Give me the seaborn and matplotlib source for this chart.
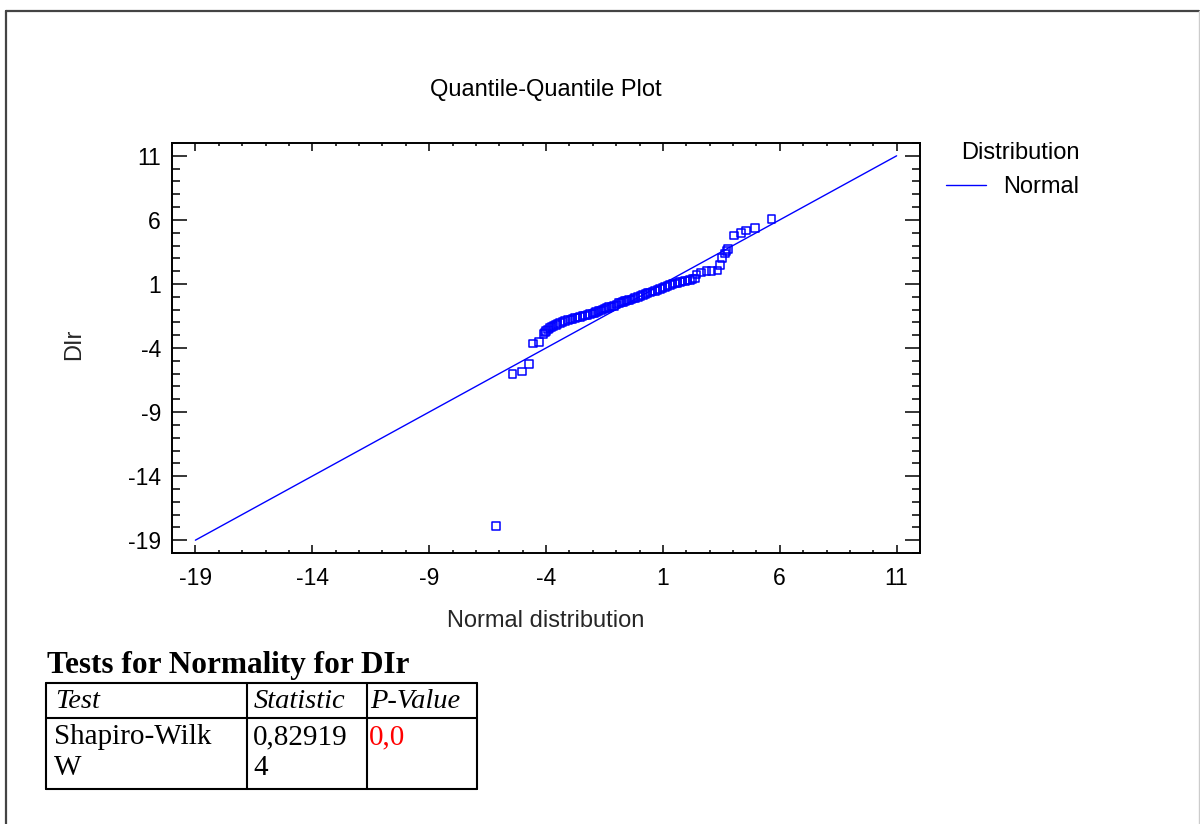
import matplotlib
matplotlib.use("Agg")
import matplotlib.pyplot as plt
import seaborn as sns
import pandas as pd
from matplotlib.lines import Line2D
from matplotlib.ticker import MultipleLocator, FixedLocator

# ---- data ----
theoretical = [-6.14, -5.44, -5.03, -4.74, -4.56, -4.31, -4.11, -4.05, -3.99, -3.92,
               -3.85, -3.76, -3.68, -3.58, -3.50, -3.40, -3.29, -3.18, -3.07, -2.96,
               -2.86, -2.75, -2.65, -2.54, -2.44, -2.33, -2.23, -2.12, -2.01, -1.93,
               -1.85, -1.75, -1.66, -1.57, -1.48, -1.40, -1.31, -1.20, -1.10, -0.99,
               -0.88, -0.80, -0.71, -0.62, -0.53, -0.44, -0.35, -0.26, -0.18, -0.07,
               0.04, 0.14, 0.25, 0.35, 0.46, 0.56, 0.67, 0.77, 0.88, 0.99,
               1.10, 1.20, 1.31, 1.42, 1.52, 1.62, 1.73, 1.84, 1.95, 2.05,
               2.16, 2.26, 2.37, 2.44, 2.62, 2.86, 3.08, 3.33, 3.44, 3.54,
               3.67, 3.72, 3.78, 4.04, 4.35, 4.56, 4.94, 5.65]
observed = [-17.9, -6.02, -5.82, -5.26, -3.66, -3.53, -2.92, -2.80, -2.66, -2.55,
            -2.46, -2.36, -2.28, -2.20, -2.13, -2.05, -1.98, -1.90, -1.82, -1.77,
            -1.72, -1.66, -1.62, -1.57, -1.52, -1.47, -1.42, -1.36, -1.31, -1.26,
            -1.21, -1.13, -1.06, -0.99, -0.93, -0.87, -0.81, -0.76, -0.70, -0.60,
            -0.50, -0.45, -0.40, -0.35, -0.30, -0.25, -0.20, -0.14, -0.09, -0.01,
            0.06, 0.14, 0.21, 0.28, 0.34, 0.41, 0.47, 0.53, 0.59, 0.68,
            0.77, 0.85, 0.92, 0.98, 1.03, 1.08, 1.13, 1.18, 1.23, 1.28,
            1.33, 1.38, 1.43, 1.74, 1.89, 1.99, 1.99, 2.04, 2.50, 3.01,
            3.39, 3.55, 3.72, 4.79, 4.99, 5.17, 5.35, 6.06]
ref_line_x = [-19, 11]
ref_line_y = [-19, 11]
tick_values = [-19, -14, -9, -4, 1, 6, 11]
table_title = "Tests for Normality for DIr"
table_header = ["Test", "Statistic", "P-Value"]
table_row_line1 = ["Shapiro-Wilk", "0,82919", "0,0"]
table_row_line2 = ["W", "4", ""]

W, H = 1200, 824
def fx(px):
    return px / W
def fy(py):
    return 1 - py / H

sns.set_theme(style="white")
plt.rcParams['font.family'] = ['Liberation Sans', 'DejaVu Sans']
plt.rcParams['text.color'] = 'black'
plt.rcParams['axes.unicode_minus'] = False

fig = plt.figure(figsize=(12, 8.24), dpi=100)
fig.patch.set_facecolor('white')

ax_l, ax_r, ax_t, ax_b = 172, 920, 143, 553
ax = fig.add_axes([fx(ax_l), fy(ax_b), (ax_r - ax_l) / W, (ax_b - ax_t) / H])
ax.set_facecolor('white')

blue = '#0000ff'
sns.lineplot(x=ref_line_x, y=ref_line_y, ax=ax, color=blue, linewidth=1.0, label='Normal')
df = pd.DataFrame({"theoretical": theoretical, "observed": observed})
sns.scatterplot(data=df, x="theoretical", y="observed", ax=ax, marker='s', s=30,
                facecolors='none', edgecolor=blue, linewidth=1.1, legend=False, zorder=3)
ax.collections[-1].set_facecolor('none')

ax.set_xlim(-20, 12)
ax.set_ylim(-20, 12)
for axis in (ax.xaxis, ax.yaxis):
    axis.set_major_locator(FixedLocator(tick_values))
    axis.set_minor_locator(MultipleLocator(1))
ax.tick_params(which='both', direction='in', top=True, right=True, bottom=True, left=True,
               colors='black', labelsize=16.5, width=1.1)
ax.tick_params(axis='x', which='major', length=6, pad=10)
ax.tick_params(axis='x', which='minor', length=2.4)
ax.tick_params(axis='y', which='major', length=11, pad=8)
ax.tick_params(axis='y', which='minor', length=5.8)
for sp in ax.spines.values():
    sp.set_visible(True)
    sp.set_color('black')
    sp.set_linewidth(1.4)

ax.set_title('Quantile-Quantile Plot', fontsize=17, pad=34)
ax.set_xlabel('Normal distribution', fontsize=17, va='center')
ax.xaxis.set_label_coords(0.5, -(621 - ax_b) / (ax_b - ax_t))
ax.set_ylabel('DIr', fontsize=17, va='center')
ax.yaxis.set_label_coords(-(ax_l - 74) / (ax_r - ax_l), (ax_b - 344) / (ax_b - ax_t))

leg = ax.legend(title='Distribution', loc='upper left', frameon=False, fontsize=17,
                title_fontsize=17, bbox_to_anchor=(fx(946), fy(142)),
                bbox_transform=fig.transFigure, borderpad=0, borderaxespad=0,
                handlelength=1.7, handletextpad=0.72, alignment='right')

# outer frame of the window
fig.add_artist(Line2D([fx(6), fx(6)], [0, fy(11)], transform=fig.transFigure, color='#444444', lw=1.6))
fig.add_artist(Line2D([fx(6), fx(1199)], [fy(11), fy(11)], transform=fig.transFigure, color='#444444', lw=1.6))
fig.add_artist(Line2D([fx(1198.5), fx(1198.5)], [0, fy(11)], transform=fig.transFigure, color='#cccccc', lw=1.0))

# table
serif = ['Liberation Serif', 'DejaVu Serif']
fig.text(fx(47), fy(665), table_title, fontsize=22.5, fontweight='bold', family=serif,
         ha='left', va='center')
t_left, t_right = 46, 477
col_x = [46, 247, 367, 477]
row_y = [683, 718, 789]
for yv in row_y:
    fig.add_artist(Line2D([fx(t_left), fx(t_right)], [fy(yv), fy(yv)], transform=fig.transFigure,
                          color='black', lw=1.5))
for xv in col_x:
    fig.add_artist(Line2D([fx(xv), fx(xv)], [fy(row_y[0]), fy(row_y[-1])], transform=fig.transFigure,
                          color='black', lw=1.5))
text_x = [55, 254, 370]
for i, h in enumerate(table_header):
    fig.text(fx(text_x[i]), fy(701), h, fontsize=20.5, fontstyle='italic', family=serif,
             ha='left', va='center')
for i, v in enumerate(table_row_line1):
    fig.text(fx(text_x[i] - 1), fy(737), v, fontsize=21, family=serif, ha='left', va='center',
             color='#ff0000' if i == 2 else 'black')
for i, v in enumerate(table_row_line2):
    if v:
        fig.text(fx(text_x[i] - 1), fy(768), v, fontsize=21, family=serif, ha='left', va='center')

fig.savefig('out.png', dpi=100, facecolor='white')
